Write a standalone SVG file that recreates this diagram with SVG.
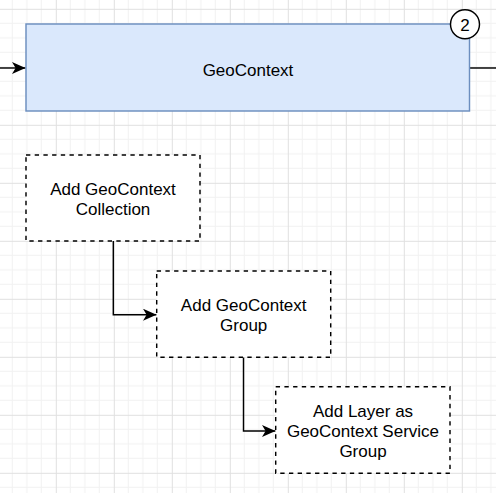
<svg xmlns="http://www.w3.org/2000/svg" width="496" height="493" viewBox="0 0 496 493">
<style>
.lbl{font-family:"Liberation Sans",Arial,Helvetica,sans-serif;font-size:17px;fill:#000;text-anchor:middle}
.dash{fill:#fff;stroke:#000;stroke-width:1.45;stroke-dasharray:4.35 4.35}
.edge{fill:none;stroke:#000;stroke-width:1.45}
</style>
<defs>
<pattern id="grid" patternUnits="userSpaceOnUse" x="-2.2" y="8.8" width="58" height="58">
<rect x="0" y="0" width="58" height="58" fill="#fff"/>
<rect x="14" y="0" width="1" height="58" fill="#f1f1f1"/>
<rect x="28.5" y="0" width="1" height="58" fill="#f1f1f1"/>
<rect x="43" y="0" width="1" height="58" fill="#f1f1f1"/>
<rect x="0" y="14" width="58" height="1" fill="#f1f1f1"/>
<rect x="0" y="28.5" width="58" height="1" fill="#f1f1f1"/>
<rect x="0" y="43" width="58" height="1" fill="#f1f1f1"/>
<rect x="0" y="0" width="1" height="58" fill="#e0e0e0"/>
<rect x="0" y="0" width="58" height="1" fill="#e0e0e0"/>
</pattern>
<marker id="arr" markerUnits="userSpaceOnUse" viewBox="0 0 14 12" refX="13.5" refY="6" markerWidth="14" markerHeight="12" orient="auto">
<path d="M0,0 L13.5,6 L0,12 L3.6,6 Z" fill="#000"/>
</marker>
</defs>
<rect width="496" height="493" fill="url(#grid)"/>
<g id="connectors">
<path class="edge" d="M0,68 L25.5,68" marker-end="url(#arr)"/>
<path class="edge" d="M469.5,68 L496,68"/>
<path class="edge" d="M113.3,241 L113.3,314.7 L156.5,314.7" marker-end="url(#arr)"/>
<path class="edge" d="M243.5,357.3 L243.5,431 L275.5,431" marker-end="url(#arr)"/>
</g>
<g id="geocontext">
<rect x="26" y="24" width="443.5" height="87" fill="#dae8fc" stroke="#6c8ebf" stroke-width="1.45"/>
<text class="lbl" x="248" y="76">GeoContext</text>
</g>
<g id="badge">
<circle cx="465" cy="24.3" r="14.5" fill="#fff" stroke="#000" stroke-width="1.45"/>
<text class="lbl" x="465" y="30.5">2</text>
</g>
<g id="collection">
<rect class="dash" x="26" y="155" width="174" height="86"/>
<text class="lbl" x="113" y="195">Add GeoContext</text>
<text class="lbl" x="113" y="215">Collection</text>
</g>
<g id="group">
<rect class="dash" x="156.7" y="271" width="174" height="86.3"/>
<text class="lbl" x="243.7" y="311">Add GeoContext</text>
<text class="lbl" x="243.7" y="331">Group</text>
</g>
<g id="layer">
<rect class="dash" x="275.7" y="386.7" width="174.3" height="86.6"/>
<text class="lbl" x="363" y="417">Add Layer as</text>
<text class="lbl" x="363" y="437">GeoContext Service</text>
<text class="lbl" x="363" y="457">Group</text>
</g>
</svg>
